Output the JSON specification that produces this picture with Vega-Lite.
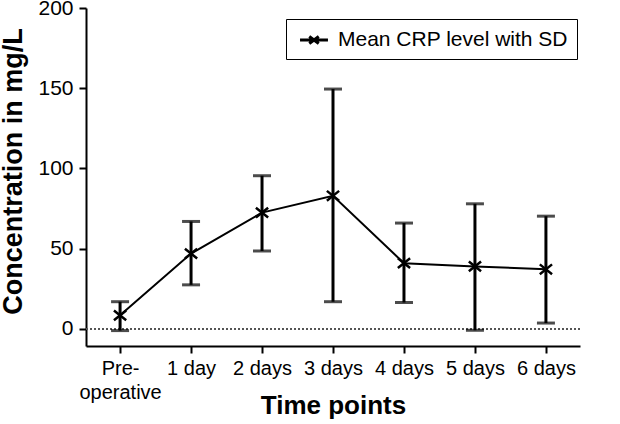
{
  "$schema": "https://vega.github.io/schema/vega-lite/v6.json",
  "autosize": "none",
  "width": 494,
  "height": 338,
  "padding": {"left": 86, "top": 8, "right": 40, "bottom": 78},
  "background": "white",
  "config": {
    "view": {"stroke": null},
    "font": "Liberation Sans",
    "axis": {
      "domainColor": "black", "domainWidth": 2, "tickColor": "black", "tickWidth": 2, "tickSize": 7,
      "labelColor": "black", "labelFontSize": 20, "labelFont": "Liberation Sans",
      "titleColor": "black", "titleFont": "Liberation Sans", "titleFontWeight": "bold", "grid": false
    },
    "legend": {
      "orient": "none", "legendX": 200, "legendY": 11, "strokeColor": "black", "padding": 9,
      "symbolType": "M-1.33,0L1.33,0M-0.45,-0.33L0.45,0.33M-0.45,0.33L0.45,-0.33",
      "symbolSize": 441, "symbolOffset": 7, "symbolStrokeWidth": 3, "symbolStrokeColor": "black", "symbolFillColor": "transparent",
      "labelFontSize": 21, "labelColor": "black", "labelOffset": 12, "labelLimit": 400
    }
  },
  "data": {"values": [
    {"time": "Pre-operative", "mean": 8.5, "lower": -1, "upper": 17, "series": "Mean CRP level with SD"},
    {"time": "1 day", "mean": 47, "lower": 27.5, "upper": 67, "series": "Mean CRP level with SD"},
    {"time": "2 days", "mean": 72.5, "lower": 48.6, "upper": 95.5, "series": "Mean CRP level with SD"},
    {"time": "3 days", "mean": 83, "lower": 17, "upper": 149.5, "series": "Mean CRP level with SD"},
    {"time": "4 days", "mean": 41, "lower": 16.5, "upper": 66, "series": "Mean CRP level with SD"},
    {"time": "5 days", "mean": 39, "lower": -0.8, "upper": 78, "series": "Mean CRP level with SD"},
    {"time": "6 days", "mean": 37.2, "lower": 3.7, "upper": 70.3, "series": "Mean CRP level with SD"}
  ]},
  "encoding": {
    "x": {
      "field": "time", "type": "ordinal", "sort": null,
      "scale": {"type": "point", "padding": 0.48},
      "axis": {
        "title": "Time points", "labelAngle": 0, "labelPadding": 5, "labelLineHeight": 24,
        "labelExpr": "datum.label == 'Pre-operative' ? ['Pre-', 'operative'] : datum.label",
        "titleFontSize": 26, "titleBaseline": "alphabetic", "titleY": 67
      }
    }
  },
  "layer": [
    {
      "mark": {"type": "rule", "strokeDash": [2, 2], "strokeWidth": 1, "color": "#555555"},
      "encoding": {"y": {"datum": 0, "type": "quantitative"}, "x": null}
    },
    {
      "mark": {"type": "rule", "strokeWidth": 3, "color": "black"},
      "encoding": {
        "y": {"field": "lower", "type": "quantitative",
          "scale": {"domain": [-10.6, 200], "nice": false, "zero": false},
          "axis": {"values": [0, 50, 100, 150, 200], "title": "Concentration in mg/L", "titleFontSize": 27, "labelFontSize": 21, "labelPadding": 6, "titleX": -59, "titleY": 163, "titleBaseline": "bottom"}},
        "y2": {"field": "upper"}
      }
    },
    {
      "mark": {"type": "tick", "orient": "horizontal", "size": 18, "thickness": 3, "color": "black"},
      "encoding": {"y": {"field": "upper", "type": "quantitative"}}
    },
    {
      "mark": {"type": "tick", "orient": "horizontal", "size": 18, "thickness": 3, "color": "black"},
      "encoding": {"y": {"field": "lower", "type": "quantitative"}}
    },
    {
      "mark": {"type": "line", "strokeWidth": 2},
      "encoding": {
        "y": {"field": "mean", "type": "quantitative"},
        "color": {"field": "series", "type": "nominal", "scale": {"range": ["black"]}, "legend": {"title": null}}
      }
    },
    {
      "mark": {"type": "point", "shape": "M-1,-0.8L1,0.8M-1,0.8L1,-0.8", "filled": false, "stroke": "black", "strokeWidth": 2.5, "size": 150, "opacity": 1},
      "encoding": {"y": {"field": "mean", "type": "quantitative"}}
    }
  ]
}
